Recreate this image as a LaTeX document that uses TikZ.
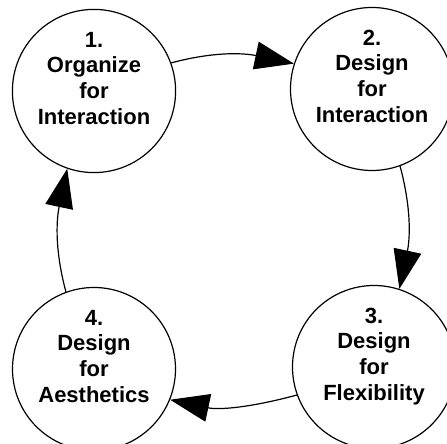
\documentclass[tikz,border=0pt]{standalone}
\usepackage{fontspec}
\setmainfont{Liberation Sans}
\usepackage{tikz}
\usetikzlibrary{arrows.meta}
\usetikzlibrary{positioning}
\tikzset{
    mynode/.style = {circle, draw=black, line width=0.6pt, align=center, fill=white, minimum size=81.5pt, inner sep=0pt, font=\bfseries\fontsize{11}{12.85}\selectfont},
}

\begin{document}
\begin{tikzpicture}[
	x=0.5pt,
	y=0.5pt
]
\tikzset{
    edgen/.style = {-{Triangle[length=19.5pt,width=14pt]}, line width=0.6pt},
}
\useasboundingbox (0,0) rectangle (447,444);
\node[mynode] at (94,353) (a) {1.\\Organize\\for\\Interaction\\\mbox{}};
\node[mynode] at (372,355) (b) {2.\\Design\\for\\Interaction\\\mbox{}};
\node[mynode] at (374,77) (c) {3.\\Design\\for\\Flexibility\\\mbox{}};
\node[mynode] at (94,75) (d) {4.\\Design\\for\\Aesthetics\\\mbox{}};
%
\draw[edgen] (a.20) to[out=15,in=168] (b.162);
\draw[edgen] (b.-70) to[out=-75,in=78] (c.72);
\draw[edgen] (c.200) to[out=195,in=-12] (d.-22);
\draw[edgen] (d.110) to[out=105,in=258] (a.251);
\end{tikzpicture}
\end{document}
